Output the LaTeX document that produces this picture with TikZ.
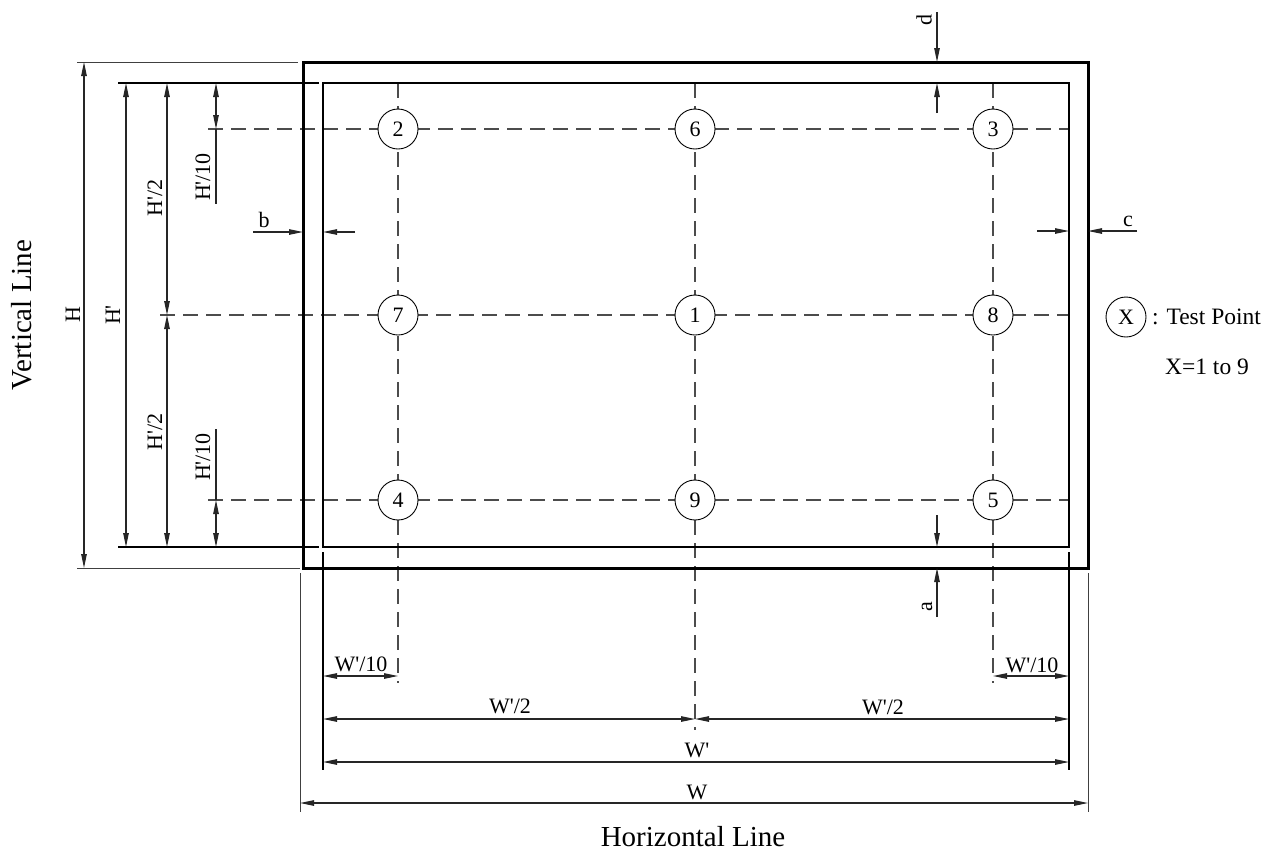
\documentclass[tikz,border=0pt]{standalone}
\usepackage{fontspec}
\setmainfont{Liberation Serif}[Ligatures=TeXOff]
\usetikzlibrary{arrows.meta}
\begin{document}
\begin{tikzpicture}[x=1pt,y=-1pt,
  >={Triangle[length=14pt,width=5.5pt]},
  lbl/.style={inner sep=0pt, font=\fontsize{22}{26}\selectfont},
  leg/.style={inner sep=0pt, font=\fontsize{23.5}{28}\selectfont},
  big/.style={inner sep=0pt, font=\fontsize{29}{34}\selectfont},
  tp/.style={circle, draw, line width=0.9pt, minimum size=40pt, inner sep=0pt, fill=white, font=\fontsize{22}{26}\selectfont},
  gridl/.style={dash pattern=on 15pt off 8pt, line width=1.1pt, black!70},
  frame/.style={line width=3pt},
  thinl/.style={line width=1.1pt},
  ext/.style={line width=1pt, black!75},
  dim/.style={line width=1.1pt, black!85},
]
\useasboundingbox (0,0) rectangle (1267,855);

% grid (dashed)
\draw[gridl] (208,129) -- (1069,129);
\draw[gridl] (160,315) -- (1069,315);
\draw[gridl] (208,500) -- (1069,500);
\draw[gridl] (398,83) -- (398,683);
\draw[gridl] (695,83) -- (695,730);
\draw[gridl] (993,83) -- (993,683);

% frames
\draw[frame] (303,62) rectangle (1088,568);
\draw[thinl] (323,83) rectangle (1069,547);

% extension lines
\draw[ext] (77,62) -- (298,62);
\draw[thinl] (118,83) -- (319,83);
\draw[thinl] (118,547) -- (319,547);
\draw[ext] (77,568) -- (300,568);
\draw[ext] (300,573) -- (300,812);
\draw[thinl] (323,552) -- (323,770);
\draw[thinl] (1069,552) -- (1069,770);
\draw[ext] (1088,573) -- (1088,812);

% vertical dimensions (left)
\draw[dim,<->] (84,62) -- (84,568);
\draw[dim,<->] (126,83) -- (126,547);
\draw[dim,<->] (167,83) -- (167,315);
\draw[dim,<->] (167,315) -- (167,547);
\draw[dim,<->] (216,83) -- (216,129);
\draw[dim] (216,129) -- (216,204);
\draw[dim,<->] (216,500) -- (216,547);
\draw[dim] (216,429) -- (216,500);

\node[lbl,rotate=90] at (73,315) {H};
\node[lbl,rotate=90] at (113,315) {H'};
\node[lbl,rotate=90] at (155,198) {H'/2};
\node[lbl,rotate=90] at (155,432) {H'/2};
\node[lbl,rotate=90] at (203,177) {H'/10};
\node[lbl,rotate=90] at (203,457) {H'/10};

% b, c
\draw[dim,->] (253,232) -- (303,232);
\draw[dim,->] (355,232) -- (323,232);
\node[lbl] at (264,220) {b};
\draw[dim,->] (1037,231) -- (1069,231);
\draw[dim,->] (1137,231) -- (1088,231);
\node[lbl] at (1128,221) {c};

% d, a
\draw[dim,->] (937,12) -- (937,62);
\draw[dim,->] (937,113) -- (937,83);
\node[lbl,rotate=90] at (924,20) {d};
\draw[dim,->] (937,515) -- (937,547);
\draw[dim,->] (937,617) -- (937,568);
\node[lbl,rotate=90] at (927,607) {a};

% horizontal dimensions (bottom)
\draw[dim,<->] (323,676) -- (398,676);
\node[lbl] at (361,664) {W'/10};
\draw[dim,<->] (993,676) -- (1069,676);
\node[lbl] at (1032,665) {W'/10};
\draw[dim,<->] (323,719) -- (695,719);
\draw[dim,<->] (695,719) -- (1069,719);
\node[lbl] at (510,706) {W'/2};
\node[lbl] at (883,707) {W'/2};
\draw[dim,<->] (323,762) -- (1069,762);
\node[lbl] at (697,750) {W'};
\draw[dim,<->] (300,803) -- (1088,803);
\node[lbl] at (697,792) {W};

% titles
\node[big] at (693,837) {Horizontal Line};
\node[big,rotate=90] at (22,315) {Vertical Line};

% test points
\node[tp] (p2) at (398,129) {2};
\node[tp] (p6) at (695,129) {6};
\node[tp] (p3) at (993,129) {3};
\node[tp] (p7) at (398,315) {7};
\node[tp] (p1) at (695,315) {1};
\node[tp] (p8) at (993,315) {8};
\node[tp] (p4) at (398,500) {4};
\node[tp] (p9) at (695,500) {9};
\node[tp] (p5) at (993,500) {5};

% legend
\node[tp] (px) at (1126,317) {X};
\node[leg,anchor=west] (lt) at (1152,317) {: Test Point};
\node[leg] (lx) at (1207,367) {X=1 to 9};
\end{tikzpicture}
\end{document}
